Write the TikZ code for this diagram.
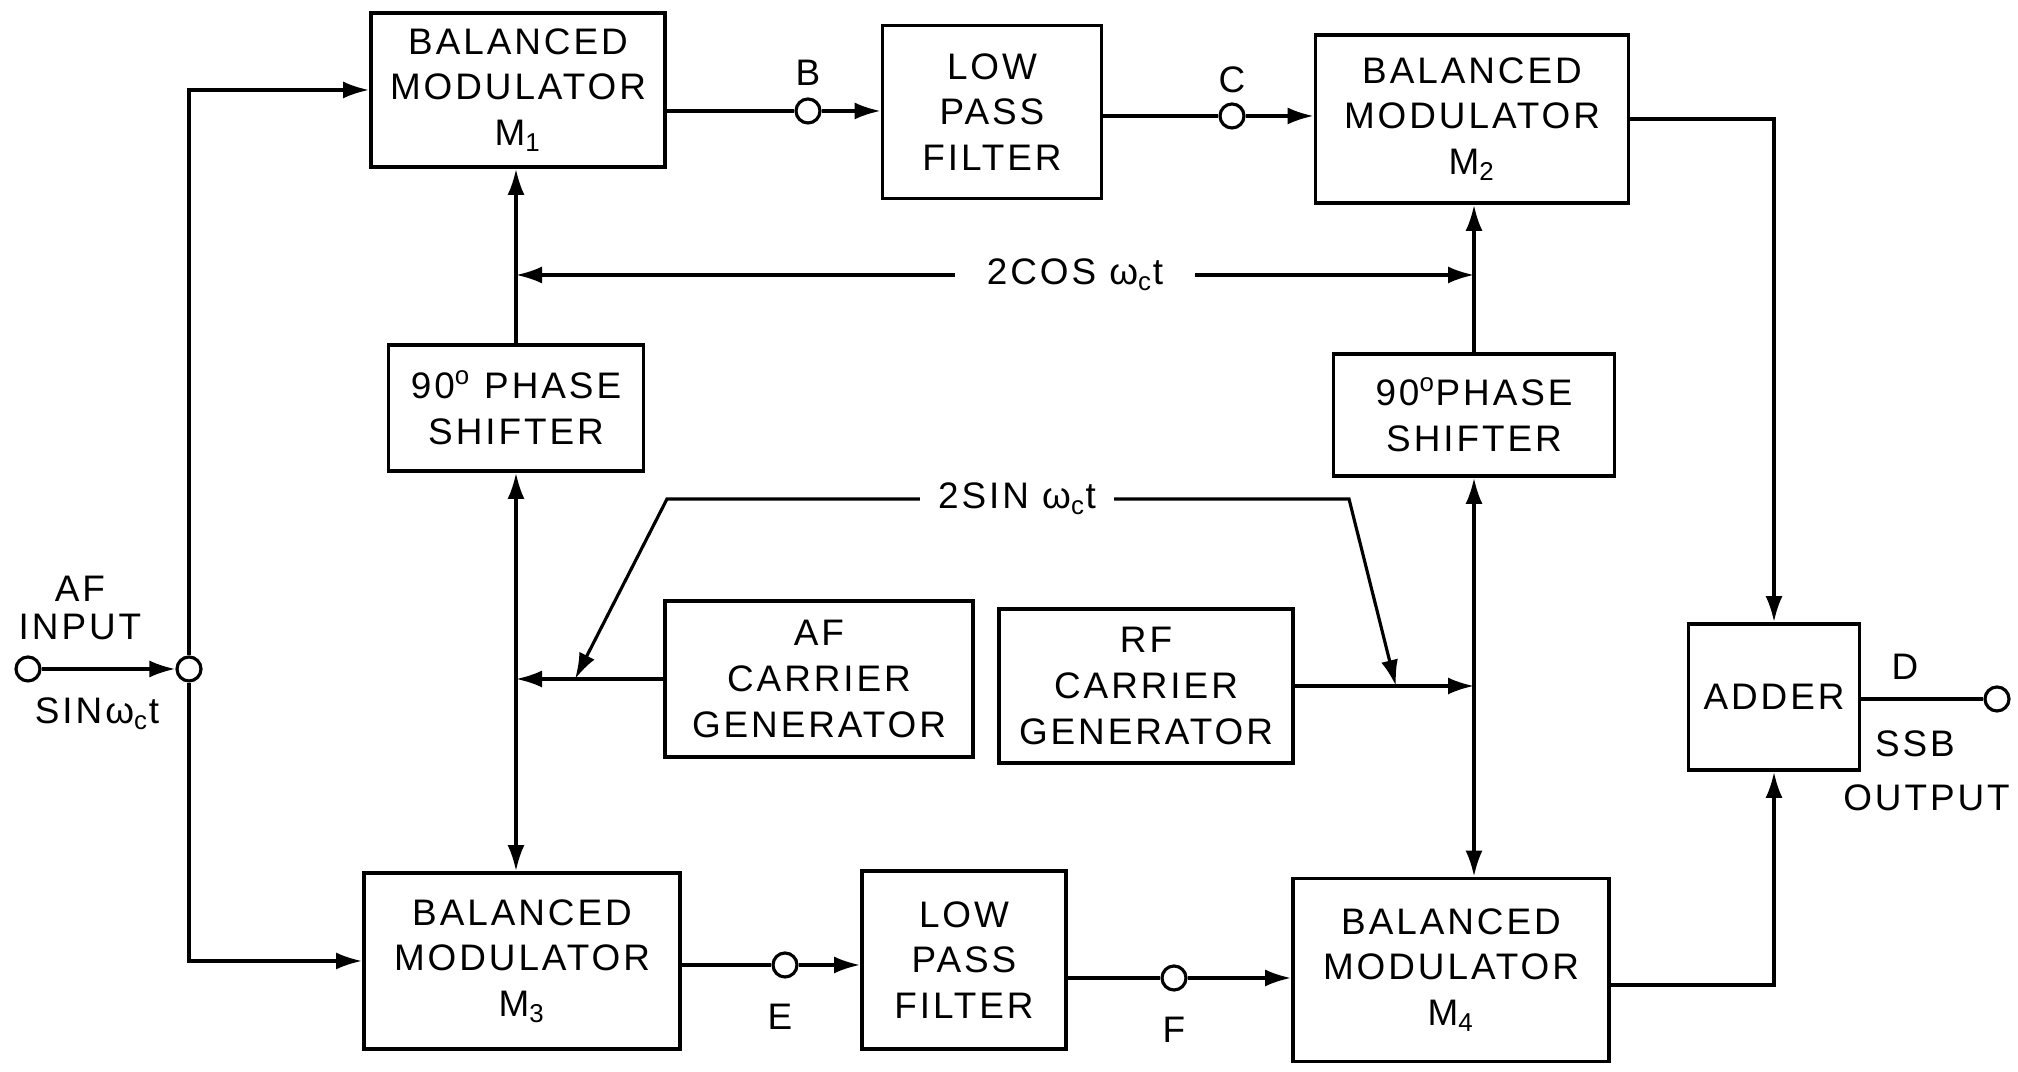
\documentclass[tikz,border=0pt]{standalone}
\usepackage{fontspec}
\setmainfont{Liberation Sans}[LetterSpace=8]
\usetikzlibrary{arrows.meta, positioning, calc}

\tikzset{
  blk/.style={draw, line width=1.1pt, align=center, inner sep=2pt},
  sig/.style={line width=0.9pt},
  arr/.style={sig, -{Latex[length=2.6mm,width=1.7mm]}},
  dblarr/.style={sig, {Latex[length=2.6mm,width=1.7mm]}-{Latex[length=2.6mm,width=1.7mm]}},
  term/.style={circle, draw, line width=0.9pt, minimum size=2.4mm, inner sep=0pt},
  lbl/.style={inner sep=1pt},
}

\begin{document}
\begin{tikzpicture}[font=\fontsize{10.5}{13}\selectfont]
  \useasboundingbox (0,0) rectangle (20.18,10.72);

  % Upper branch
  \node[blk, minimum width=2.94cm, minimum height=1.54cm] (M1) at (5.18,9.82) {BALANCED\\MODULATOR\\M\textsubscript{1}};
  \node[blk, minimum width=2.19cm, minimum height=1.73cm] (LPF1) at (9.92,9.60) {LOW\\PASS\\FILTER};
  \node[blk, minimum width=3.13cm, minimum height=1.68cm] (M2) at (14.72,9.53) {BALANCED\\MODULATOR\\M\textsubscript{2}};
  \node[term] (B) at (8.08,9.61) {};
  \node[term] (C) at (12.32,9.56) {};
  \node[lbl] (Blbl) at (8.08,9.99) {B};
  \node[lbl] (Clbl) at (12.32,9.92) {C};

  % Phase shifters
  \node[blk, minimum width=2.55cm, minimum height=1.26cm] (PS1) at (5.16,6.64) {90\textsuperscript{o} PHASE\\SHIFTER};
  \node[blk, minimum width=2.81cm, minimum height=1.22cm] (PS2) at (14.74,6.57) {90\textsuperscript{o}PHASE\\SHIFTER};

  % Carrier generators
  \node[blk, minimum width=3.08cm, minimum height=1.56cm] (AFgen) at (8.19,3.93) {AF\\CARRIER\\GENERATOR};
  \node[blk, minimum width=2.94cm, minimum height=1.54cm] (RFgen) at (11.46,3.86) {RF\\CARRIER\\GENERATOR};

  % Lower branch
  \node[blk, minimum width=3.16cm, minimum height=1.76cm] (M3) at (5.22,1.11) {BALANCED\\MODULATOR\\M\textsubscript{3}};
  \node[blk, minimum width=2.04cm, minimum height=1.78cm] (LPF2) at (9.64,1.12) {LOW\\PASS\\FILTER};
  \node[blk, minimum width=3.16cm, minimum height=1.83cm] (M4) at (14.51,1.02) {BALANCED\\MODULATOR\\M\textsubscript{4}};
  \node[term] (E) at (7.85,1.07) {};
  \node[term] (F) at (11.74,0.94) {};
  \node[lbl] (Elbl) at (7.80,0.55) {E};
  \node[lbl] (Flbl) at (11.74,0.42) {F};

  % Adder and output
  \node[blk, minimum width=1.71cm, minimum height=1.46cm] (adder) at (17.74,3.75) {ADDER};
  \node[term] (out) at (19.97,3.73) {};
  \node[lbl] (Dlbl) at (19.05,4.05) {D};
  \node[lbl] (ssblbl) at (19.15,3.28) {SSB};
  \node[lbl, anchor=east] (outlbl) at (20.14,2.74) {OUTPUT};

  % Input
  \node[term] (inp) at (0.28,4.03) {};
  \node[term] (jn) at (1.89,4.03) {};
  \node[lbl, align=center, font=\fontsize{10.5}{11}\selectfont] (inlbl) at (0.80,4.64) {AF\\INPUT};
  \node[lbl] (sinin) at (0.97,3.58) {SINω\textsubscript{c}t};

  % Carrier labels
  \node[inner xsep=9pt] (cosl) at (10.75,7.97) {2COS ω\textsubscript{c}t};
  \node[inner xsep=5pt] (sinl) at (10.17,5.73) {2SIN ω\textsubscript{c}t};
  \coordinate (sinbendL) at (6.67,5.73);
  \coordinate (sinbendR) at (13.49,5.73);
  \path (AFgen.west) ++(-0.88,0) coordinate (afj);
  \path (RFgen.east) ++(1.01,0) coordinate (rfj);

  % Connectors
  \draw[arr] (inp) -- (jn);
  \draw[arr] (jn.north) |- (M1.west);
  \draw[arr] (jn.south) |- (M3.west);
  \draw[sig] (M1.east |- B) -- (B);
  \draw[arr] (B) -- (LPF1.west |- B);
  \draw[sig] (LPF1.east |- C) -- (C);
  \draw[arr] (C) -- (M2.west |- C);
  \draw[sig] (M3.east |- E) -- (E);
  \draw[arr] (E) -- (LPF2.west |- E);
  \draw[sig] (LPF2.east |- F) -- (F);
  \draw[arr] (F) -- (M4.west |- F);
  \draw[arr] (PS1.north) -- (PS1.north |- M1.south);
  \draw[arr] (PS2.north) -- (PS2.north |- M2.south);
  \draw[arr] (cosl.west) -- (PS1.north |- cosl.west);
  \draw[arr] (cosl.east) -- (PS2.north |- cosl.east);
  \draw[dblarr] (PS1.south) -- (PS1.south |- M3.north);
  \draw[dblarr] (PS2.south) -- (PS2.south |- M4.north);
  \draw[arr] (AFgen.west) -- (PS1.south |- AFgen.west);
  \draw[arr] (RFgen.east) -- (PS2.south |- RFgen.east);
  \draw[arr] (sinl.west) -- (sinbendL) -- (afj);
  \draw[arr] (sinl.east) -- (sinbendR) -- (rfj);
  \draw[arr] (M2.east) -| (adder.north);
  \draw[arr] ([yshift=-1.5mm]M4.east) -| (adder.south);
  \draw[sig] (adder.east |- out) -- (out);
\end{tikzpicture}
\end{document}
